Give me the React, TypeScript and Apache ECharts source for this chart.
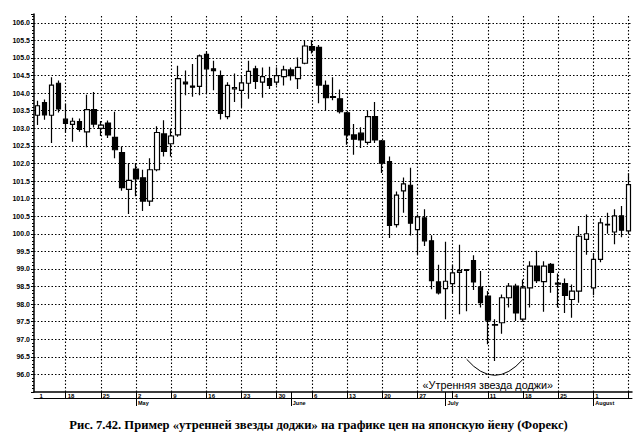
import { useEffect, useRef } from 'react';
import * as echarts from 'echarts';

// Trading days (USD/JPY, 1994)
const dates = [
  '04-12', '04-13', '04-14', '04-15',
  '04-18', '04-19', '04-20', '04-21', '04-22',
  '04-25', '04-26', '04-27', '04-28', '04-29',
  '05-02', '05-03', '05-04', '05-05', '05-06',
  '05-09', '05-10', '05-11', '05-12', '05-13',
  '05-16', '05-17', '05-18', '05-19', '05-20',
  '05-23', '05-24', '05-25', '05-26', '05-27',
  '05-30', '05-31', '06-01', '06-02', '06-03',
  '06-06', '06-07', '06-08', '06-09', '06-10',
  '06-13', '06-14', '06-15', '06-16', '06-17',
  '06-20', '06-21', '06-22', '06-23', '06-24',
  '06-27', '06-28', '06-29', '06-30', '07-01',
  '07-04', '07-05', '07-06', '07-07', '07-08',
  '07-11', '07-12', '07-13', '07-14', '07-15',
  '07-18', '07-19', '07-20', '07-21', '07-22',
  '07-25', '07-26', '07-27', '07-28', '07-29',
  '08-01', '08-02', '08-03', '08-04', '08-05',
  '08-08',
];

const opens = [
  103.37, 103.73, 103.37, 104.28,
  103.26, 103.11, 103.19, 102.90, 103.53,
  103.00, 103.15, 102.74, 102.31, 101.26,
  101.84, 101.59, 100.93, 101.82, 102.84,
  102.56, 102.81, 104.31, 104.20, 104.19,
  105.10, 104.69, 104.50, 103.33, 104.12,
  104.08, 104.28, 104.69, 104.31, 104.41,
  104.31, 104.47, 104.66, 104.41, 104.85,
  105.32, 105.30, 104.22, 103.90, 103.84,
  103.44, 102.81, 102.86, 102.60, 103.33,
  102.64, 102.05, 100.26, 101.22, 101.38,
  100.12, 100.45, 99.80, 98.63, 98.44,
  98.58, 98.90, 98.98, 99.24, 98.48,
  98.23, 97.40, 97.47, 98.18, 98.51,
  97.57, 98.46, 99.08, 98.64, 99.13,
  98.60, 98.58, 98.13, 98.37, 99.84,
  98.46, 99.27, 100.27, 100.05, 100.51,
  100.08,
];

const closes = [
  103.64, 103.38, 104.23, 103.55,
  103.14, 103.20, 102.97, 103.53, 103.12,
  103.09, 102.81, 102.39, 101.31, 101.52,
  101.56, 100.93, 101.82, 102.88, 102.34,
  102.78, 104.41, 104.26, 104.17, 105.06,
  104.69, 104.64, 103.42, 104.22, 104.16,
  104.29, 104.62, 104.33, 104.47, 104.22,
  104.50, 104.66, 104.50, 104.73, 105.34,
  105.22, 104.23, 103.87, 103.88, 103.47,
  102.81, 102.69, 102.67, 103.33, 102.67,
  102.01, 100.24, 101.10, 101.42, 100.30,
  100.48, 99.80, 98.67, 98.32, 98.65,
  98.89, 98.95, 98.96, 98.63, 98.04,
  97.54, 97.42, 98.18, 98.51, 97.75,
  98.46, 99.08, 98.67, 99.08, 98.90,
  98.57, 98.25, 98.37, 99.93, 100.00,
  99.27, 100.31, 100.25, 100.51, 100.10,
  101.40,
];

const lows = [
  103.09, 103.24, 102.58, 103.45,
  102.87, 102.62, 102.90, 102.46, 103.02,
  102.78, 102.72, 102.15, 101.22, 100.56,
  101.07, 100.65, 100.79, 101.78, 102.20,
  102.20, 102.76, 103.94, 103.90, 103.94,
  104.00, 104.08, 103.25, 103.26, 103.75,
  103.60, 103.84, 104.12, 103.87, 104.12,
  104.22, 104.22, 104.36, 104.12, 104.82,
  105.13, 103.71, 103.49, 103.80, 103.42,
  102.53, 102.25, 102.44, 102.53, 102.58,
  101.73, 99.88, 100.18, 100.60, 99.95,
  99.40, 99.65, 98.42, 98.27, 97.57,
  98.30, 97.71, 97.80, 98.40, 97.90,
  96.86, 96.38, 97.16, 97.90, 97.52,
  97.50, 97.90, 98.60, 97.78, 98.32,
  97.90, 97.75, 97.61, 98.04, 99.40,
  98.25, 99.19, 100.00, 99.70, 99.90,
  100.00,
];

const highs = [
  103.78, 103.82, 104.45, 104.36,
  103.70, 103.30, 103.28, 103.95, 104.03,
  103.21, 103.22, 103.47, 102.48, 102.01,
  102.01, 101.82, 102.15, 103.06, 103.23,
  102.99, 104.78, 104.64, 104.83, 105.10,
  105.18, 104.92, 104.64, 104.31, 104.56,
  104.47, 104.92, 104.78, 104.73, 104.75,
  104.73, 104.78, 104.73, 105.01, 105.51,
  105.49, 105.37, 104.36, 104.45, 104.10,
  103.47, 103.12, 103.03, 103.51, 103.75,
  102.67, 102.20, 101.20, 101.60, 101.88,
  100.55, 100.70, 99.96, 99.12, 99.77,
  99.12, 99.69, 98.99, 99.39, 98.94,
  98.37, 97.57, 98.27, 98.60, 98.58,
  98.70, 99.22, 99.52, 99.22, 99.17,
  98.87, 98.73, 98.56, 100.22, 100.55,
  99.45, 100.44, 100.60, 100.70, 100.79,
  101.72,
];

// Week tick labels (Mondays), the first one is clipped at the axis start
const tickIndex = [0, 4, 9, 14, 19, 24, 29, 34, 39, 44, 49, 54, 59, 64, 69, 74, 79];
const tickLabels = ['1', '18', '25', '2', '9', '16', '23', '30', '6', '13', '20', '27', '4', '11', '18', '25', '1'];
// Mondays (vertical grid lines and separators)
const mondayIndex = [4, 9, 14, 19, 24, 29, 34, 39, 44, 49, 54, 59, 64, 69, 74, 79, 84];
// First trading day of each month
const monthIndex = [14, 36, 58, 79];
const monthLabels = ['May', 'June', 'July', 'August'];

const yMin = 95.5;
const yMax = 106.25;
const yStep = 0.5;

const caption = 'Рис. 7.42. Пример «утренней звезды доджи» на графике цен на японскую йену (Форекс)';
const note = '«Утренняя звезда доджи»';
// annotation anchors in data space: [category index, price]
const arcStart = [60.7, 96.43];
const arcControl = [64.8, 95.52];
const arcEnd = [68.9, 96.43];
const noteAnchor = [64.0, 95.71];

export default function App() {
  const ref = useRef<HTMLDivElement>(null);

  useEffect(() => {
    if (!ref.current) return;
    const chart = echarts.init(ref.current, undefined, { renderer: 'svg' });

    const labelMap = new Map<number, string>();
    tickIndex.forEach((ix, k) => labelMap.set(ix, tickLabels[k]));
    const mondaySet = new Set(mondayIndex);
    const monthMap = new Map<number, string>();
    monthIndex.forEach((ix, k) => monthMap.set(ix, monthLabels[k]));

    const dotted = { color: '#000', width: 1.1, type: [1.5, 2] as number[] };

    const option: any = {
      animation: false,
      backgroundColor: '#fff',
      title: {
        text: caption,
        left: 'center',
        top: 413,
        textStyle: {
          fontFamily: 'Liberation Serif',
          fontWeight: 'bold',
          fontSize: 12.6,
          color: '#000',
        },
      },
      grid: { left: 34, right: 5, top: 14, bottom: 41, containLabel: false },
      xAxis: [
        {
          type: 'category',
          data: dates,
          boundaryGap: true,
          position: 'bottom',
          axisLine: { show: true, lineStyle: { color: '#000', width: 1.5 } },
          axisTick: {
            show: true,
            alignWithLabel: true,
            length: 6,
            interval: (i: number) => mondaySet.has(i) || monthMap.has(i),
            lineStyle: { color: '#000', width: 1 },
          },
          axisLabel: {
            show: true,
            interval: (i: number) => labelMap.has(i),
            formatter: (_v: string, i: number) => labelMap.get(i) ?? '',
            align: 'left',
            verticalAlign: 'top',
            margin: 1,
            padding: [0, 0, 0, 2],
            fontSize: 6,
            fontWeight: 'bold',
            fontFamily: 'Liberation Sans',
            color: '#000',
          },
          splitLine: { show: false },
        },
        {
          type: 'category',
          data: dates,
          boundaryGap: true,
          position: 'bottom',
          offset: 6,
          axisLine: { show: true, lineStyle: { color: '#000', width: 1 } },
          axisTick: {
            show: true,
            alignWithLabel: true,
            length: 8,
            interval: (i: number) => monthMap.has(i),
            lineStyle: { color: '#000', width: 1 },
          },
          axisLabel: {
            show: true,
            interval: (i: number) => monthMap.has(i),
            formatter: (_v: string, i: number) => monthMap.get(i) ?? '',
            align: 'left',
            verticalAlign: 'top',
            margin: 2,
            padding: [0, 0, 0, 2],
            fontSize: 5.5,
            fontWeight: 'bold',
            fontFamily: 'Liberation Sans',
            color: '#000',
          },
          splitLine: { show: false },
        },
      ],
      yAxis: {
        type: 'value',
        min: yMin,
        max: yMax,
        interval: yStep,
        position: 'left',
        axisLine: { show: true, onZero: false, lineStyle: { color: '#000', width: 1.5 } },
        axisTick: { show: true, length: 3, lineStyle: { color: '#000', width: 1 } },
        minorTick: { show: true, splitNumber: 5, length: 2, lineStyle: { color: '#000', width: 1 } },
        axisLabel: {
          showMinLabel: false,
          showMaxLabel: false,
          margin: 4,
          fontSize: 7,
          fontWeight: 'bold',
          fontFamily: 'Liberation Sans',
          color: '#000',
          formatter: (v: number) => v.toFixed(1),
        },
        splitLine: { show: true, showMinLine: false, showMaxLine: false, lineStyle: dotted },
      },
      series: [
        {
          type: 'candlestick',
          xAxisIndex: 0,
          yAxisIndex: 0,
          data: dates.map((_, i) => [opens[i], closes[i], lows[i], highs[i]]),
          barWidth: 5,
          z: 3,
          itemStyle: {
            color: '#ffffff',
            color0: '#000000',
            borderColor: '#000000',
            borderColor0: '#000000',
            borderWidth: 1.2,
          },
          emphasis: { disabled: true },
          markLine: {
            silent: true,
            z: 1,
            symbol: 'none',
            animation: false,
            label: { show: false },
            lineStyle: dotted,
            emphasis: { disabled: true },
            data: mondayIndex.map((ix) => ({ xAxis: ix })),
          },
        },
      ],
    };

    chart.setOption(option);

    const finder = { xAxisIndex: 0, yAxisIndex: 0 };
    const px = (p: number[]) => chart.convertToPixel(finder as any, p) as number[];
    const a = px(arcStart);
    const c = px(arcControl);
    const b = px(arcEnd);
    const t = px(noteAnchor);

    chart.setOption({
      graphic: [
        {
          type: 'bezierCurve',
          silent: true,
          z: 10,
          shape: { x1: a[0], y1: a[1], x2: b[0], y2: b[1], cpx1: c[0], cpy1: c[1] },
          style: { stroke: '#000', lineWidth: 1, fill: null },
        },
        {
          type: 'text',
          silent: true,
          z: 10,
          x: t[0],
          y: t[1],
          style: {
            text: note,
            fontSize: 10.8,
            fontFamily: 'Liberation Sans',
            fill: '#000',
            align: 'center',
            verticalAlign: 'middle',
            backgroundColor: '#fff',
            padding: [1, 2],
          },
        },
      ],
    });

    return () => chart.dispose();
  }, []);

  return (
    <div
      ref={ref}
      style={{ position: 'fixed', left: 0, top: 0, width: 637, height: 433, background: '#fff' }}
    />
  );
}
